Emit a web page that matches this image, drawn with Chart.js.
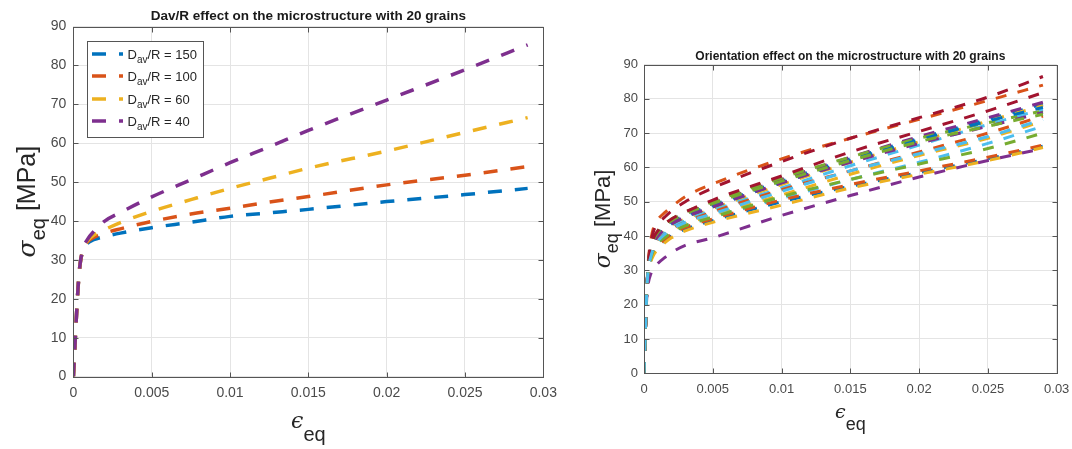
<!DOCTYPE html>
<html>
<head>
<meta charset="utf-8">
<script src="https://cdn.jsdelivr.net/npm/chart.js@4.4.1/dist/chart.umd.min.js"></script>
<style>
  body { margin: 0; background: #fff; width: 1072px; height: 449px; overflow: hidden; position: relative; }
  canvas { position: absolute; top: 0; }
  #davChart { left: 0; }
  #oriChart { left: 560px; }
</style>
</head>
<body>
<canvas id="davChart" width="560" height="449"></canvas>
<canvas id="oriChart" width="512" height="449"></canvas>
<script>
// axis ticks shared by both panels
const xTicks = [0, 0.005, 0.01, 0.015, 0.02, 0.025, 0.03];
const xTickLabels = ['0', '0.005', '0.01', '0.015', '0.02', '0.025', '0.03'];
const yTicks = [0, 10, 20, 30, 40, 50, 60, 70, 80, 90];

// left panel: Dav/R effect
const davRatios = [150, 100, 60, 40];
const strainDav = [0, 0.0001, 0.0002, 0.0003, 0.0004, 0.0006, 0.0009, 0.0013, 0.002, 0.003, 0.005, 0.0075, 0.01, 0.0125, 0.015, 0.02, 0.025, 0.029];
const stressDav150 = [0, 8, 16, 23, 28, 32.3, 34.3, 35.2, 36, 36.9, 38.3, 39.7, 41.2, 42.1, 43, 45, 46.8, 48.4];
const stressDav100 = [0, 8, 16, 23, 28, 32.4, 34.6, 35.8, 36.9, 38, 39.9, 41.8, 43.3, 44.9, 46.3, 49.3, 51.8, 54];
const stressDav60 = [0, 8, 16, 23, 28, 32.5, 34.9, 36.4, 37.8, 39.6, 42.5, 45.5, 48.4, 51, 53.6, 58, 62.8, 66.6];
const stressDav40 = [0, 8, 16, 23, 28, 32.7, 35.3, 37.3, 40, 42.2, 46.2, 50.6, 55, 59.1, 63.3, 71.1, 78.9, 85.3];

// right panel: orientation effect, one row per orientation set
const strainOri = [0, 0.0001, 0.0002, 0.0003, 0.0005, 0.0007, 0.001, 0.0015, 0.002, 0.003, 0.005, 0.01, 0.015, 0.02, 0.025, 0.029];
const stressOri = [
  [0, 12, 24, 30.5, 35.5, 38.5, 40.5, 42.5, 44, 46, 49, 56, 62.5, 68.5, 74, 78.5],
  [0, 12, 24, 32, 39, 42.5, 44.8, 46.8, 48.5, 51.5, 55.2, 62.5, 68.5, 74, 79.5, 84],
  [0, 12, 24, 30, 35, 37.5, 39.5, 41.5, 43, 45, 48, 55, 61.5, 67.5, 73.5, 78],
  [0, 12, 24, 31, 36, 39, 41, 43, 44.5, 46.5, 49.5, 56.5, 63, 69, 74.5, 79],
  [0, 12, 24, 31, 36.5, 39.5, 41.5, 43.5, 45, 47, 50, 57, 63, 68.5, 73, 76.5],
  [0, 12, 24, 30, 34.5, 37, 39, 41, 42.5, 44.5, 47.5, 54, 60.5, 66.5, 72.5, 77],
  [0, 12, 24, 31.5, 38, 41.5, 43.5, 45.5, 47.3, 50, 54, 61.7, 68.5, 74.5, 80.5, 86.5],
  [0, 12, 24, 30.5, 35.5, 38.5, 40.5, 42, 43.5, 45.5, 48.5, 55.5, 62, 68, 73.5, 77.5],
  [0, 12, 24, 30, 34.5, 37, 39, 40.5, 42, 44, 47, 53.5, 59, 64.5, 70, 75],
  [0, 12, 24, 30, 34, 36.5, 38.5, 40, 41.5, 43.5, 46, 52, 58, 63.5, 68.5, 73.5],
  [0, 12, 24, 30.5, 35.5, 38, 40, 42, 43.5, 45.5, 48.5, 55.5, 61.5, 67, 72, 76],
  [0, 12, 24, 31, 36, 39, 41, 43, 44.5, 46.5, 49.5, 56, 62, 67.5, 72, 75.5],
  [0, 12, 24, 29.5, 33.5, 36, 38, 39.5, 41, 43, 45.5, 51, 56.5, 61.5, 67, 72],
  [0, 12, 24, 31, 36.5, 39.5, 41.5, 43.5, 45, 47, 50.5, 57.5, 64.5, 70.5, 76.5, 81.8],
  [0, 12, 23.5, 29, 33, 35, 36.5, 38.5, 40, 42, 44.5, 50, 54.5, 58.5, 62.5, 66.2],
  [0, 12, 23.5, 29, 33.5, 35.5, 37, 39, 40.5, 42.5, 45, 50.5, 55, 59, 63, 66.5],
  [0, 12, 23.5, 28.5, 32.5, 34.5, 36, 38, 39.5, 41.5, 44, 49, 54, 58, 62, 65.8],
  [0, 12, 22, 26, 29, 30.5, 32, 33.7, 35.2, 37.3, 39.5, 46, 51.8, 57.2, 62, 65.5],
  [0, 12, 24, 29.5, 33.5, 36, 38, 39.5, 41, 43, 45.5, 51.5, 56.5, 61, 65.5, 70],
  [0, 12, 24, 30, 34, 36.5, 38.5, 40.5, 42, 44, 46.5, 53, 59, 64, 69, 74],
];

// matlab default colour order
const palette = ['#0072BD', '#D95319', '#EDB120', '#7E2F8E', '#77AC30', '#4DBEEE', '#A2142F'];

const FONT = '"Liberation Sans", Arial, Helvetica, sans-serif';
const MATH = '"DejaVu Serif", "Liberation Serif", serif';
const AXIS_COLOR = '#555555';
const TICK_COLOR = '#4a4a4a';
const GRID_COLOR = '#e4e4e4';

function toPoints(xs, ys) {
  return xs.map((x, i) => ({ x, y: ys[i] }));
}

// draw a run of text pieces (for subscripts), centred on x at baseline y
function drawPieces(ctx, pieces, cx, cy, rotate) {
  ctx.save();
  ctx.translate(cx, cy);
  if (rotate) ctx.rotate(-Math.PI / 2);
  ctx.textBaseline = 'alphabetic';
  ctx.textAlign = 'left';
  let total = 0;
  pieces.forEach((p) => {
    ctx.font = p.font;
    p.w = ctx.measureText(p.t).width;
    total += p.w;
  });
  let x = -total / 2;
  pieces.forEach((p) => {
    ctx.font = p.font;
    ctx.fillStyle = p.color || '#262626';
    ctx.fillText(p.t, x, p.dy || 0);
    x += p.w;
  });
  ctx.restore();
}

function decorPlugin(cfg) {
  return {
    id: 'decor',
    afterDraw(chart) {
      const { ctx, chartArea: a, scales } = chart;
      const L = Math.round(a.left) + 0.5;
      const R = Math.round(a.right) + 0.5;
      const T = Math.round(a.top) + 0.5;
      const B = Math.round(a.bottom) + 0.5;
      ctx.save();
      ctx.strokeStyle = AXIS_COLOR;
      ctx.lineWidth = 1;
      ctx.strokeRect(L, T, R - L, B - T);
      ctx.beginPath();
      scales.x.ticks.forEach((t) => {
        const px = Math.round(scales.x.getPixelForValue(t.value)) + 0.5;
        ctx.moveTo(px, B); ctx.lineTo(px, B - 5);
        ctx.moveTo(px, T); ctx.lineTo(px, T + 5);
      });
      scales.y.ticks.forEach((t) => {
        const py = Math.round(scales.y.getPixelForValue(t.value)) + 0.5;
        ctx.moveTo(L, py); ctx.lineTo(L + 5, py);
        ctx.moveTo(R, py); ctx.lineTo(R - 5, py);
      });
      ctx.stroke();
      ctx.restore();

      // title
      ctx.save();
      ctx.font = cfg.titleFont;
      ctx.fillStyle = '#1a1a1a';
      ctx.textAlign = 'center';
      ctx.textBaseline = 'alphabetic';
      ctx.fillText(cfg.title, (a.left + a.right) / 2, cfg.titleY);
      ctx.restore();

      const s = cfg.labelSize;
      const sub = cfg.subSize;
      drawPieces(ctx, [
        { t: '\u03c3', font: `italic ${s}px ${MATH}` },
        { t: 'eq', font: `${sub}px ${FONT}`, dy: cfg.yDrop },
        { t: ' [MPa]', font: `${s}px ${FONT}` },
      ], cfg.yLabelX, (a.top + a.bottom) / 2, true);
      drawPieces(ctx, [
        { t: '\u03f5', font: `italic ${s - 3}px ${MATH}` },
        { t: 'eq', font: `${sub}px ${FONT}`, dy: cfg.xDrop },
      ], (a.left + a.right) / 2, cfg.xLabelY, false);

      if (cfg.legend) {
        const lg = cfg.legend;
        ctx.save();
        ctx.fillStyle = '#fff';
        ctx.fillRect(lg.x, lg.y, lg.w, lg.h);
        ctx.strokeStyle = AXIS_COLOR;
        ctx.lineWidth = 1;
        ctx.strokeRect(lg.x + 0.5, lg.y + 0.5, lg.w, lg.h);
        chart.data.datasets.forEach((ds, i) => {
          const ry = lg.rows[i];
          ctx.strokeStyle = ds.borderColor;
          ctx.lineWidth = ds.borderWidth;
          ctx.setLineDash(ds.borderDash);
          ctx.beginPath();
          ctx.moveTo(lg.x + 5, ry);
          ctx.lineTo(lg.x + 36, ry);
          ctx.stroke();
          ctx.setLineDash([]);
          const m = ds.label.match(/^(.*?)_(\w+)(.*)$/);
          const pieces = [
            { t: m[1], font: `13px ${FONT}` },
            { t: m[2], font: `10px ${FONT}`, dy: 4 },
            { t: m[3], font: `13px ${FONT}` },
          ];
          let x = lg.x + 40.5;
          ctx.fillStyle = '#262626';
          pieces.forEach((p) => {
            ctx.font = p.font;
            ctx.fillText(p.t, x, ry + 5 + (p.dy || 0));
            x += ctx.measureText(p.t).width;
          });
        });
        ctx.restore();
      }
    },
  };
}

function scalesFor(tickSize, yPad, xPad) {
  return {
    x: {
      type: 'linear',
      min: 0,
      max: 0.03,
      afterBuildTicks: (scale) => { scale.ticks = xTicks.map((v) => ({ value: v })); },
      afterFit: (scale) => {
        scale.height = 30;
        scale.paddingLeft = 0;
        scale.paddingRight = 0;
      },
      grid: { color: GRID_COLOR, drawTicks: false },
      border: { display: false },
      ticks: {
        color: TICK_COLOR,
        font: { family: FONT, size: tickSize },
        padding: xPad,
        maxRotation: 0,
        autoSkip: false,
        callback: (v, i) => xTickLabels[i],
      },
    },
    y: {
      type: 'linear',
      min: 0,
      max: 90,
      afterBuildTicks: (scale) => { scale.ticks = yTicks.map((v) => ({ value: v })); },
      afterFit: (scale) => {
        scale.width = 40;
        scale.paddingTop = 0;
        scale.paddingBottom = 0;
      },
      grid: { color: GRID_COLOR, drawTicks: false },
      border: { display: false },
      ticks: {
        color: TICK_COLOR,
        font: { family: FONT, size: tickSize },
        padding: yPad,
        autoSkip: false,
      },
    },
  };
}

const davSeries = [stressDav150, stressDav100, stressDav60, stressDav40];

new Chart(document.getElementById('davChart'), {
  type: 'line',
  data: {
    datasets: davSeries.map((ys, i) => ({
      label: `D_av/R = ${davRatios[i]}`,
      data: toPoints(strainDav, ys),
      borderColor: palette[i],
      borderWidth: 3.5,
      borderDash: [14, 13],
      pointRadius: 0,
      cubicInterpolationMode: 'monotone',
      fill: false,
      order: -i,
    })),
  },
  options: {
    responsive: false,
    animation: false,
    layout: { padding: { left: 33.4, right: 16.7, top: 26.6, bottom: 42.4 } },
    scales: scalesFor(14, 7, 8),
    plugins: { legend: { display: false }, tooltip: { enabled: false } },
  },
  plugins: [decorPlugin({
    title: 'Dav/R effect on the microstructure with 20 grains',
    titleFont: `bold 13.5px ${FONT}`,
    titleY: 20,
    labelSize: 25,
    subSize: 20,
    yLabelX: 35,
    yDrop: 10,
    xLabelY: 428,
    xDrop: 13,
    legend: { x: 87, y: 41, w: 116, h: 96, rows: [54, 76, 99, 121] },
  })],
});

new Chart(document.getElementById('oriChart'), {
  type: 'line',
  data: {
    datasets: stressOri.map((ys, i) => ({
      label: `set ${i + 1}`,
      data: toPoints(strainOri, ys),
      borderColor: palette[i % palette.length],
      borderWidth: 3,
      borderDash: [11, 11.5],
      pointRadius: 0,
      cubicInterpolationMode: 'monotone',
      fill: false,
      order: -i,
    })),
  },
  options: {
    responsive: false,
    animation: false,
    layout: { padding: { left: 44, right: 15.3, top: 64.5, bottom: 45.7 } },
    scales: scalesFor(13, 6, 8),
    plugins: { legend: { display: false }, tooltip: { enabled: false } },
  },
  plugins: [decorPlugin({
    title: 'Orientation effect on the microstructure with 20 grains',
    titleFont: `bold 12px ${FONT}`,
    titleY: 59.5,
    labelSize: 22,
    subSize: 18,
    yLabelX: 50,
    yDrop: 8,
    xLabelY: 418,
    xDrop: 12,
    legend: null,
  })],
});
</script>
</body>
</html>
